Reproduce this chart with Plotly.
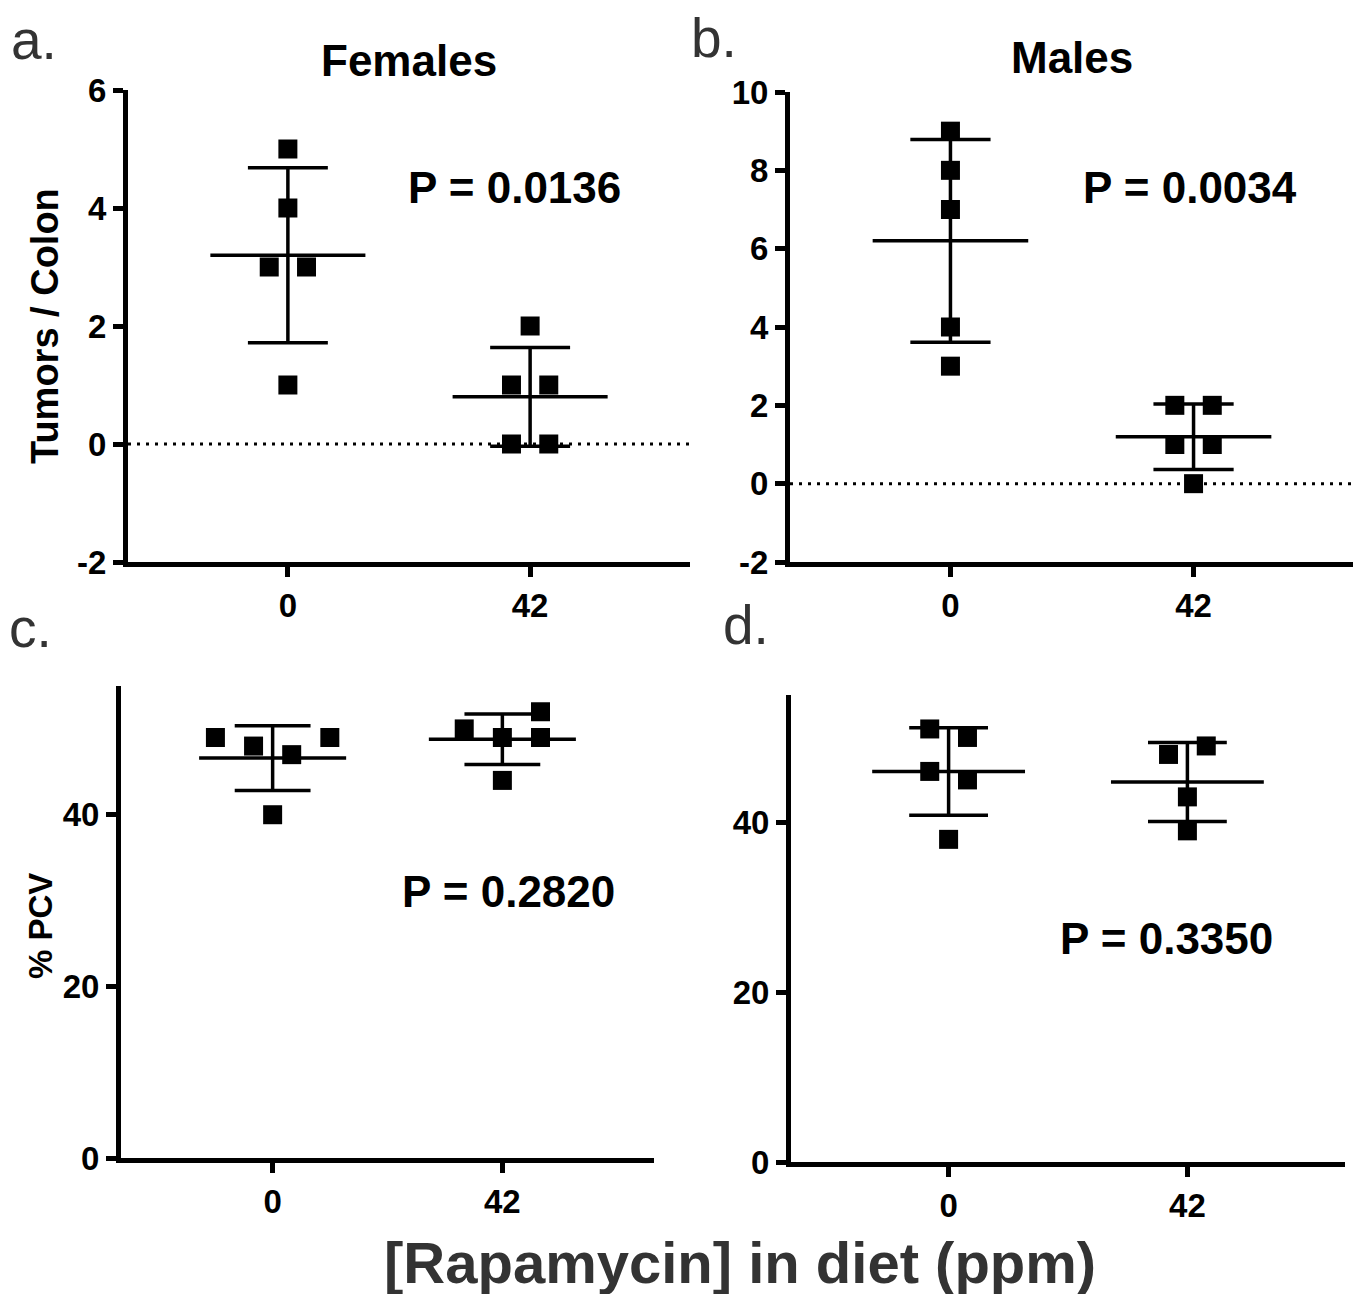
import numpy as np
import plotly.graph_objects as go

W, H = 1361, 1294
OFF = 8  # page body margin in the browser

# ---------------- data ----------------
categories = ["0", "42"]  # rapamycin ppm

tumors_female_0 = [5, 4, 3, 3, 1]
tumors_female_42 = [2, 1, 1, 0, 0]
tumors_male_0 = [9, 8, 7, 4, 3]
tumors_male_42 = [2, 2, 1, 1, 0]
pcv_female_0 = [49, 48, 47, 49, 40]
pcv_female_42 = [50, 49, 49, 52, 44]
pcv_male_0 = [51, 50, 46, 45, 38]
pcv_male_42 = [48, 49, 43, 39]

yticks_a = [-2, 0, 2, 4, 6]
yticks_b = [-2, 0, 2, 4, 6, 8, 10]
yticks_pcv = [0, 20, 40]

p_values = ["P = 0.0136", "P = 0.0034", "P = 0.2820", "P = 0.3350"]
panel_titles = ["Females", "Males"]
panel_letters = ["a.", "b.", "c.", "d."]
y_titles = ["Tumors / Colon", "% PCV"]
x_title = "[Rapamycin] in diet (ppm)"

# ---------------- layout / style ----------------
JIT = {
    "a0": [0, 0, -1, 1, 0], "a1": [0, -1, 1, -1, 1],
    "b0": [0, 0, 0, 0, 0], "b1": [-1, 1, -1, 1, 0],
    "c0": [-3, -1, 1, 3, 0], "c1": [-2, 0, 2, 2, 0],
    "d0": [-1, 1, -1, 1, 0], "d1": [-1, 1, 0, 0],
}
SLOT = {"a": 0.077, "b": 0.077, "c": 0.083, "d": 0.079}
MEAN_HW = 0.32
CAP_HW = 0.165
XR = [-0.66, 1.66]

FONT = "Liberation Sans, Arial, Helvetica, sans-serif"


def px_x(x):
    return (x - OFF) / W


def px_y(y):
    return 1 - (y - OFF) / H


def dom_x(x0, x1):
    return [px_x(x0), px_x(x1)]


def dom_y(ytop, ybot):
    return [px_y(ybot), px_y(ytop)]


panels = {
    "a": dict(xd=dom_x(128, 690), yd=dom_y(90, 562), yr=[-2, 6], yt=yticks_a,
              data=[tumors_female_0, tumors_female_42], zero=True),
    "b": dict(xd=dom_x(790, 1354), yd=dom_y(92, 562), yr=[-2, 10], yt=yticks_b,
              data=[tumors_male_0, tumors_male_42], zero=True),
    "c": dict(xd=dom_x(121, 654), yd=dom_y(686, 1158), yr=[0, 55], yt=yticks_pcv,
              data=[pcv_female_0, pcv_female_42], zero=False),
    "d": dict(xd=dom_x(791, 1345), yd=dom_y(695, 1162), yr=[0, 55], yt=yticks_pcv,
              data=[pcv_male_0, pcv_male_42], zero=False),
}

tickfont = dict(family=FONT, size=33, color="black", weight="bold")

fig = go.Figure()
layout = {}
for i, (key, p) in enumerate(panels.items()):
    n = "" if i == 0 else str(i + 1)
    xa, ya = "x" + n, "y" + n
    for g, vals in enumerate(p["data"]):
        vals = np.asarray(vals, dtype=float)
        jit = np.asarray(JIT[f"{key}{g}"]) * SLOT[key]
        m = vals.mean()
        sd = vals.std(ddof=1)
        lx = [g - MEAN_HW, g + MEAN_HW, None,
              g, g, None,
              g - CAP_HW, g + CAP_HW, None,
              g - CAP_HW, g + CAP_HW]
        ly = [m, m, None,
              m - sd, m + sd, None,
              m + sd, m + sd, None,
              m - sd, m - sd]
        fig.add_trace(go.Scatter(x=lx, y=ly, mode="lines", xaxis=xa, yaxis=ya,
                                 line=dict(color="black", width=3.5),
                                 showlegend=False, hoverinfo="skip"))
        fig.add_trace(go.Scatter(x=g + jit, y=vals, mode="markers", xaxis=xa, yaxis=ya,
                                 marker=dict(symbol="square", size=19, color="black",
                                             line=dict(width=0)),
                                 showlegend=False))
    if p["zero"]:
        fig.add_trace(go.Scatter(x=XR, y=[0, 0], mode="lines", xaxis=xa, yaxis=ya,
                                 line=dict(color="black", width=3, dash="3px,6px"),
                                 showlegend=False, hoverinfo="skip"))
    layout["xaxis" + n] = dict(
        domain=p["xd"], range=XR, anchor=ya, showgrid=False, zeroline=False,
        showline=True, linewidth=5, linecolor="black", automargin=False,
        ticks="outside", ticklen=10, tickwidth=5, tickcolor="black",
        tickvals=[0, 1], ticktext=categories, tickfont=tickfont,
    )
    layout["yaxis" + n] = dict(
        domain=p["yd"], range=p["yr"], anchor=xa, showgrid=False, zeroline=False,
        showline=True, linewidth=5, linecolor="black", automargin=False,
        ticks="outside", ticklen=10, tickwidth=5, tickcolor="black",
        tickvals=p["yt"], ticktext=[str(v) for v in p["yt"]], tickfont=tickfont,
    )

ann = []


def add_text(text, px, py, size, bold=True, color="black", xanchor="center", angle=0):
    ann.append(dict(
        text=f"<b>{text}</b>" if bold else text,
        x=px_x(px), y=px_y(py), xref="paper", yref="paper",
        xanchor=xanchor, yanchor="middle", showarrow=False, textangle=angle,
        font=dict(family=FONT, size=size, color=color),
    ))


add_text(panel_letters[0], 9, 40, 55, bold=False, color="#333", xanchor="left")
add_text(panel_letters[1], 689, 38, 55, bold=False, color="#333", xanchor="left")
add_text(panel_letters[2], 7, 628, 55, bold=False, color="#333", xanchor="left")
add_text(panel_letters[3], 721, 625, 55, bold=False, color="#333", xanchor="left")

add_text(panel_titles[0], 409, 60, 44)
add_text(panel_titles[1], 1072, 57, 44)

add_text(p_values[0], 514, 187, 44)
add_text(p_values[1], 1190, 188, 44)
add_text(p_values[2], 508, 891, 44)
add_text(p_values[3], 1166, 938, 44)

add_text(y_titles[0], 45, 326, 38, angle=-90)
add_text(y_titles[1], 40, 926, 33, angle=-90)
add_text(x_title, 740, 1262, 58, color="#333")

fig.update_layout(
    width=W, height=H, margin=dict(l=0, r=0, t=0, b=0, autoexpand=False),
    paper_bgcolor="white", plot_bgcolor="white",
    annotations=ann, **layout,
)

fig.write_html("out.html")
